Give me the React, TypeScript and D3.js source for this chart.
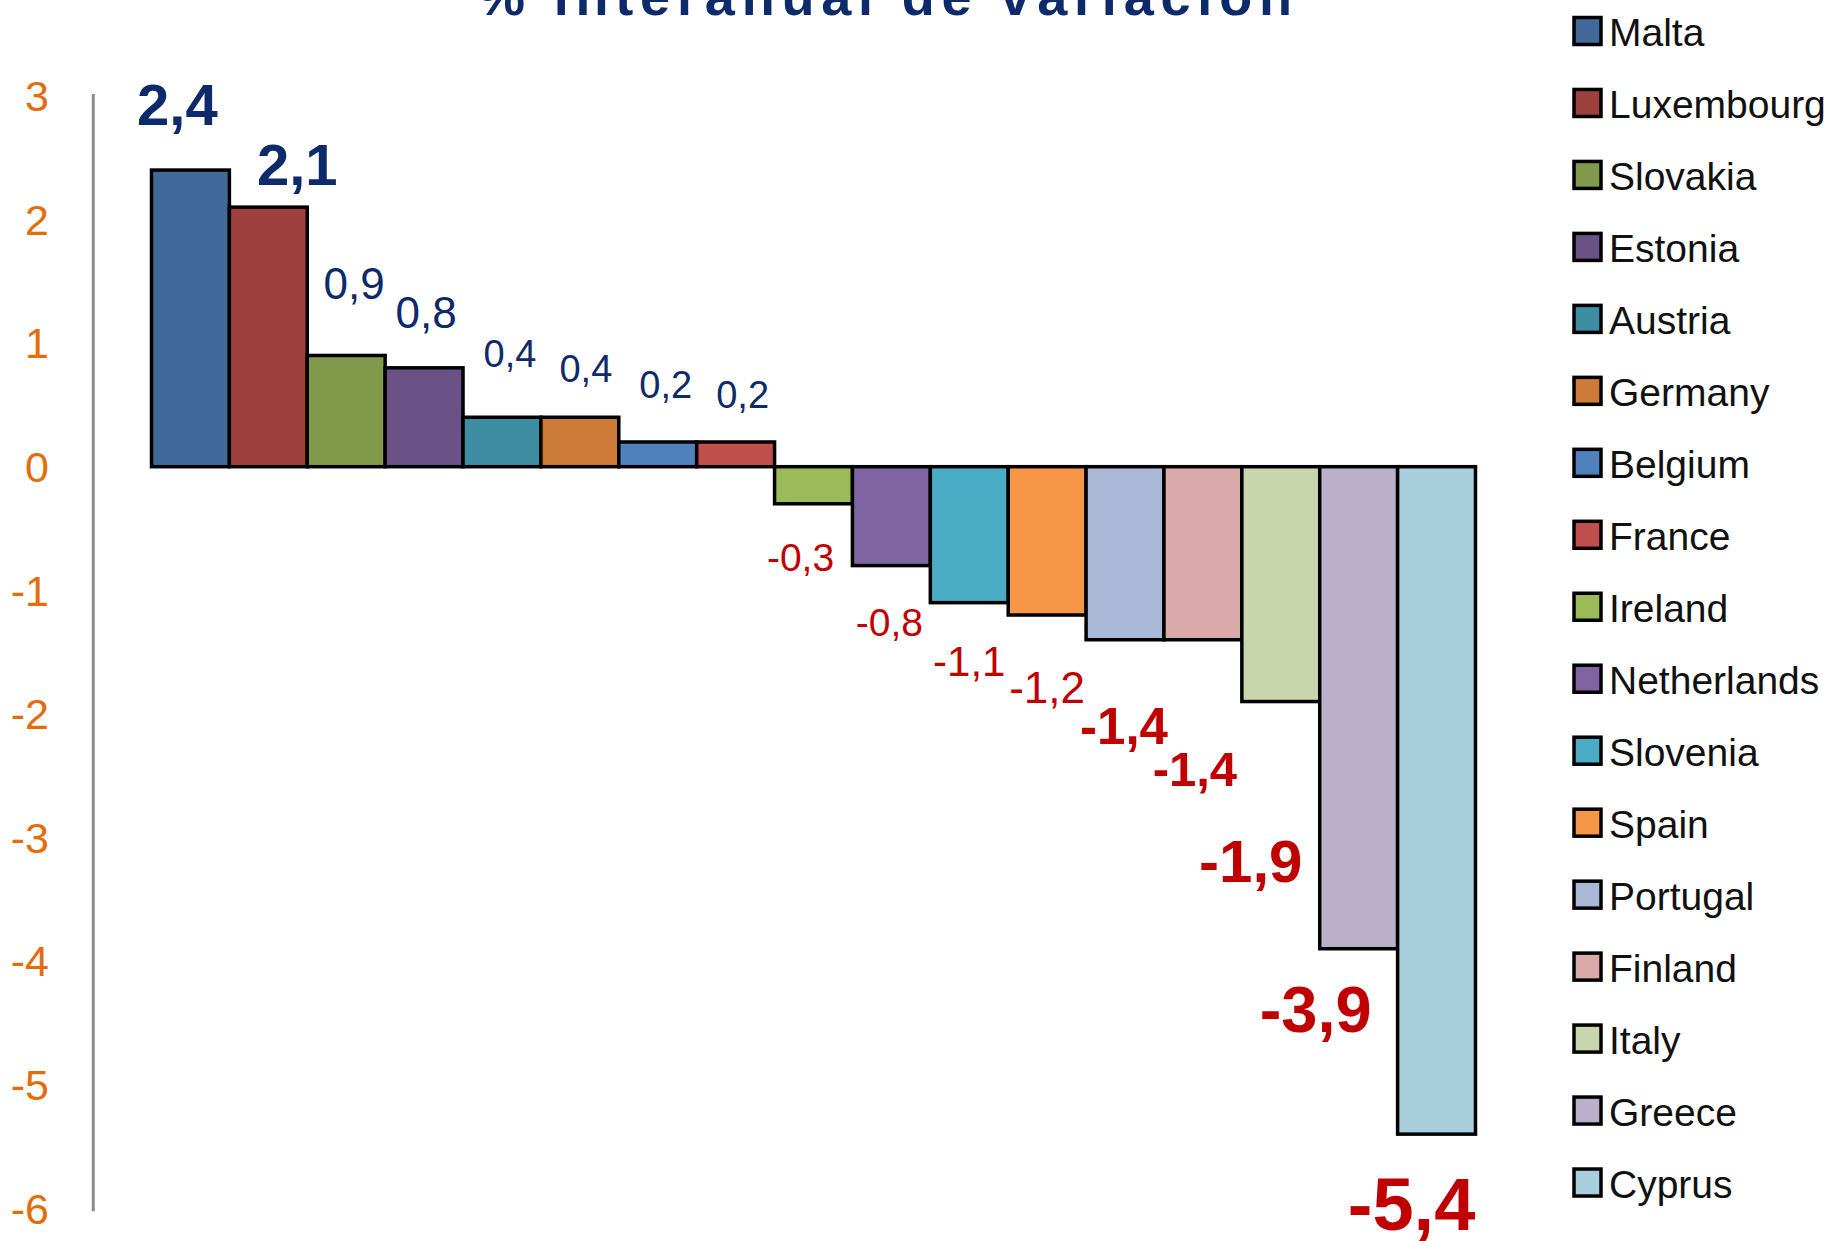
import * as d3 from "d3";

const countries = [
  "Malta", "Luxembourg", "Slovakia", "Estonia", "Austria", "Germany", "Belgium", "France",
  "Ireland", "Netherlands", "Slovenia", "Spain", "Portugal", "Finland", "Italy", "Greece", "Cyprus",
];
const values = [2.4, 2.1, 0.9, 0.8, 0.4, 0.4, 0.2, 0.2, -0.3, -0.8, -1.1, -1.2, -1.4, -1.4, -1.9, -3.9, -5.4];
const colors = [
  "#416A9B", "#9E413E", "#80994B", "#6A5186", "#3D8DA3", "#CC7B38", "#4F81BD", "#C0504D",
  "#9BBB59", "#8064A2", "#4BACC6", "#F79646", "#AAB9D7", "#D9AAA9", "#C9D6AD", "#BAB0C9", "#A9CEDC",
];
const yTicks = [3, 2, 1, 0, -1, -2, -3, -4, -5, -6];
const title = "% interanual de variación";

// hand placed data labels, as in the original: offset from bar centre / bar end, size, weight
const labelDx = [-13, 29, 8, 2, 8, 6, 8, 7, -13, -2, 0, 0, -1, -8, -30, -43, -25];
const labelDy = [-66, -43, -72, -56, -64, -49, -58, -48, 53, 56, 58, 72, 86, 129, 159, 60, 69];
const labelSize = [58, 58, 44, 44, 38, 38, 38, 38, 39, 39, 42, 44, 51, 49, 60, 65, 74];
const labelBold = [true, true, false, false, false, false, false, false, false, false, false, false, true, true, true, true, true];

const W = 1829;
const H = 1241;
const font = "'Liberation Sans', Arial, sans-serif";

// Spanish style numbers with a plain hyphen for the minus
const esLocale = d3.formatLocale({ decimal: ",", thousands: ".", grouping: [3], currency: ["", " €"], minus: "-" });
const fmt = esLocale.format(".1f");

export default function App() {
  const x = d3.scaleBand<string>().domain(countries).range([151.5, 1475.5]).padding(0);
  const y = d3.scaleLinear().domain([3, -6]).range([95.9, 1208.3]);

  return (
    <svg
      width={W}
      height={H}
      style={{ position: "absolute", left: 0, top: 0, background: "#fff" }}
      fontFamily={font}
    >
      {/* title, clipped at the top like the source */}
      <text
        x={477}
        y={15}
        fontSize={54}
        fontWeight="bold"
        fill="#0D2A6B"
        textLength={815}
        lengthAdjust="spacing"
      >
        {title}
      </text>

      {/* y axis */}
      <line x1={93.3} x2={93.3} y1={y(3) - 2} y2={y(-6) + 3} stroke="#8C8C8C" strokeWidth={3} />
      {yTicks.map((t) => (
        <text
          key={t}
          x={49}
          y={y(t) + 0.358 * 43}
          fontSize={43}
          textAnchor="end"
          fill="#E46C0A"
        >
          {t}
        </text>
      ))}

      {/* bars */}
      {countries.map((c, i) => {
        const v = values[i];
        const y0 = y(Math.max(0, v));
        const y1 = y(Math.min(0, v));
        return (
          <rect
            key={c}
            x={x(c)}
            y={y0}
            width={x.bandwidth()}
            height={y1 - y0}
            fill={colors[i]}
            stroke="#000"
            strokeWidth={3.5}
          />
        );
      })}

      {/* data labels */}
      {countries.map((c, i) => {
        const v = values[i];
        const cx = (x(c) as number) + x.bandwidth() / 2 + labelDx[i];
        const cy = y(v) + labelDy[i];
        const fs = labelSize[i];
        return (
          <text
            key={"l" + c}
            x={cx}
            y={cy + 0.358 * fs}
            fontSize={fs}
            fontWeight={labelBold[i] ? "bold" : "normal"}
            textAnchor="middle"
            fill={v >= 0 ? "#0D2A6B" : "#C00000"}
          >
            {fmt(v)}
          </text>
        );
      })}

      {/* legend */}
      {countries.map((c, i) => {
        const cy = 31 + i * 71.97;
        return (
          <g key={"g" + c}>
            <rect x={1574} y={cy - 13.5} width={27} height={27} fill={colors[i]} stroke="#000" strokeWidth={3.5} />
            <text x={1609} y={cy + 15} fontSize={39} fill="#111">
              {c}
            </text>
          </g>
        );
      })}
    </svg>
  );
}
